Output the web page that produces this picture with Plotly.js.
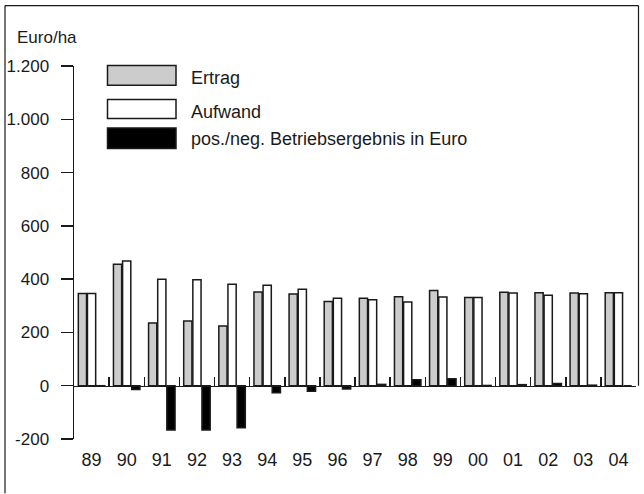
<!DOCTYPE html>
<html>
<head>
<meta charset="utf-8">
<script src="https://cdn.plot.ly/plotly-3.0.1.min.js"></script>
<style>
  html, body { margin: 0; padding: 0; background: #fff; }
  #chart { width: 644px; height: 494px; }
</style>
</head>
<body>
<div id="chart"></div>
<script>
// ---- data ----
const years = ['89','90','91','92','93','94','95','96','97','98','99','00','01','02','03','04'];
const ertrag = [346, 456, 235, 243, 224, 352, 344, 316, 328, 334, 357, 331, 351, 349, 348, 349];
const aufwand = [346, 468, 400, 398, 381, 377, 362, 328, 323, 314, 333, 331, 348, 340, 345, 349];
const ergebnis = [-2, -14, -166, -166, -158, -26, -21, -12, 5, 22, 26, 1, 4, 8, 2, 0];
const yTickVals = [-200, 0, 200, 400, 600, 800, 1000, 1200];
const yTickLabels = ['-200', '0', '200', '400', '600', '800', '1.000', '1.200'];
const seriesNames = ['Ertrag', 'Aufwand', 'pos./neg. Betriebsergebnis in Euro'];
const unitLabel = 'Euro/ha';

// ---- build ----
const idx = years.map((_, i) => i);
const bounds = [];
for (let i = 0; i <= years.length; i++) bounds.push(i - 0.5);

const font = 'Liberation Sans, Arial, Helvetica, sans-serif';
const ink = '#1a1a1a';
const fills = ['#cccccc', '#ffffff', '#000000'];
const values = [ertrag, aufwand, ergebnis];
const yMin = -200, yMax = 1200;

const traces = values.map((v, k) => ({
  type: 'bar',
  name: seriesNames[k],
  x: idx,
  y: v,
  marker: { color: fills[k], line: { color: ink, width: 1.5 } },
  hoverinfo: 'skip'
}));
// empty helper trace so the zero-line axis (x2/y2) with group separator ticks is drawn
traces.push({ type: 'scatter', mode: 'markers', x: [], y: [], xaxis: 'x2', yaxis: 'y2', hoverinfo: 'skip', showlegend: false });

// paper coordinates helpers (plot area: x 74..636 px, y 65.6..439.5 px)
const L = 74, R = 636, T = 65.6, B = 439.5;
const px = p => (p - L) / (R - L);
const py = p => (B - p) / (B - T);
const zeroFrac = (0 - yMin) / (yMax - yMin);

const legendBoxes = [[65, 85], [99.3, 118.3], [127.7, 148.3]];
const legendText = [77.5, 111.7, 139];

const shapes = [];
legendBoxes.forEach((b, k) => {
  shapes.push({
    type: 'rect', xref: 'paper', yref: 'paper',
    x0: px(107.5), x1: px(176), y0: py(b[1]), y1: py(b[0]),
    fillcolor: fills[k], line: { color: ink, width: 1.5 }
  });
});
// outer frame (left, top, right)
shapes.push({ type: 'line', xref: 'paper', yref: 'paper', x0: px(5), x1: px(5), y0: py(494), y1: py(5), line: { color: ink, width: 1.2 } });
shapes.push({ type: 'line', xref: 'paper', yref: 'paper', x0: px(5), x1: px(638.5), y0: py(5), y1: py(5), line: { color: ink, width: 1.2 } });
shapes.push({ type: 'line', xref: 'paper', yref: 'paper', x0: px(638.5), x1: px(638.5), y0: py(5), y1: zeroFrac, line: { color: ink, width: 1.2 } });

const annotations = seriesNames.map((n, k) => ({
  text: n, xref: 'paper', yref: 'paper', x: px(189), y: py(legendText[k]),
  xanchor: 'left', yanchor: 'middle', showarrow: false,
  font: { family: font, size: 18, color: ink }
}));
annotations.push({
  text: unitLabel, xref: 'paper', yref: 'paper', x: px(15), y: py(37.5),
  xanchor: 'left', yanchor: 'middle', showarrow: false,
  font: { family: font, size: 17, color: ink }
});

const layout = {
  width: 644, height: 494,
  margin: { l: L, r: 644 - R, t: T, b: 494 - B, pad: 0 },
  paper_bgcolor: '#ffffff', plot_bgcolor: 'rgba(0,0,0,0)',
  showlegend: false,
  barmode: 'group', bargap: 0.22, bargroupgap: 0.1,
  font: { family: font, size: 17, color: ink },
  xaxis: {
    range: [-0.5, years.length - 0.5], fixedrange: true,
    tickvals: idx, ticktext: years, ticks: '', showline: false,
    showgrid: false, zeroline: false, ticklabelstandoff: 8,
    tickfont: { family: font, size: 18, color: ink }
  },
  xaxis2: {
    anchor: 'y2', side: 'bottom',
    range: [-0.5, years.length - 0.5], fixedrange: true,
    tickmode: 'array', tickvals: bounds, showticklabels: false, ticks: 'inside', ticklen: 9,
    tickwidth: 1.5, tickcolor: ink, showline: true, linecolor: ink, linewidth: 1.5,
    showgrid: false, zeroline: false, layer: 'above traces'
  },
  yaxis2: {
    domain: [zeroFrac, 1], anchor: 'x2', range: [0, 1], fixedrange: true,
    showline: false, showticklabels: false, ticks: '', showgrid: false, zeroline: false
  },
  yaxis: {
    range: [yMin, yMax], fixedrange: true,
    tickvals: yTickVals, ticktext: yTickLabels,
    ticks: 'outside', ticklen: 12, tickwidth: 1.5, tickcolor: ink,
    showline: true, linecolor: ink, linewidth: 1.5,
    showgrid: false, zeroline: false, ticklabelstandoff: 8,
    tickfont: { family: font, size: 17, color: ink }
  },
  shapes: shapes,
  annotations: annotations
};

Plotly.newPlot('chart', traces, layout, { staticPlot: true, displayModeBar: false });
</script>
</body>
</html>
